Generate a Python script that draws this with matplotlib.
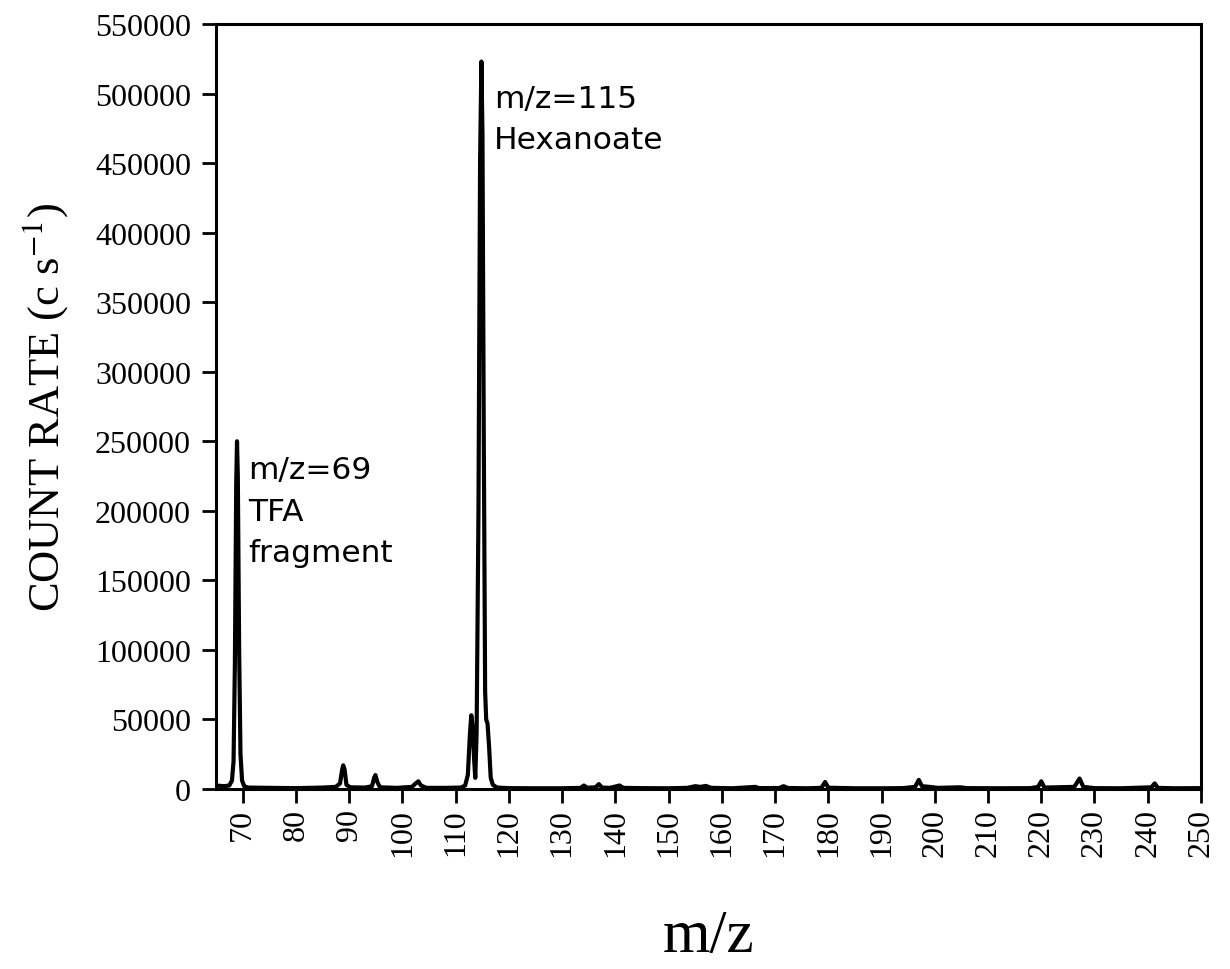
import numpy as np
import matplotlib
matplotlib.use("Agg")
import matplotlib.pyplot as plt

plt.rcParams['font.family'] = ['Liberation Serif', 'DejaVu Serif']
plt.rcParams['mathtext.fontset'] = 'stix'

# spectrum: (m/z, count rate)
mz = [65.0, 66.5, 67.5, 68.0, 68.3, 68.55, 68.8, 68.95, 69.1, 69.35, 69.6, 69.9, 70.3, 71.0,
      75.0, 80.0, 85.0, 87.5, 88.3, 88.7, 88.9, 89.15, 89.5, 90.2,
      93.0, 94.3, 94.7, 94.95, 95.3, 95.8, 99.0, 101.8, 102.5, 103.0, 103.5, 104.5,
      108.0, 111.0, 111.8, 112.3, 112.7, 112.95, 113.2, 113.5, 113.7, 113.95,
      114.3, 114.6, 114.85, 115.05, 115.3, 115.55, 115.75, 116.0, 116.3, 116.6, 117.0, 117.8,
      120.0, 125.0, 130.0, 133.5, 134.1, 134.7, 136.3, 136.9, 137.5, 139.0, 140.8, 141.5,
      145.0, 150.0, 153.5, 155.0, 156.0, 157.0, 158.0, 162.0, 166.3, 167.0,
      170.8, 171.6, 172.4, 176.0, 178.7, 179.4, 180.0, 185.0, 190.0, 194.0,
      196.3, 197.0, 197.6, 199.0, 200.5, 204.8, 206.0, 212.0, 218.0,
      219.4, 220.0, 220.6, 226.2, 227.2, 227.9, 230.0, 235.0,
      240.7, 241.3, 241.9, 245.0, 250.0]
counts = [2500, 2000, 2500, 6000, 20000, 90000, 220000, 250000, 225000, 100000, 25000, 6000, 2000, 1000,
          800, 600, 1000, 1500, 4000, 14000, 17000, 14000, 3000, 1200,
          1000, 2000, 8000, 10000, 5000, 1200, 800, 1500, 4000, 5500, 2500, 800,
          800, 1000, 2500, 10000, 40000, 53000, 45000, 20000, 8000, 40000,
          200000, 450000, 523000, 470000, 250000, 70000, 50000, 47000, 30000, 8000, 3000, 1000,
          600, 500, 500, 800, 2500, 900, 1200, 3500, 1000, 800, 2500, 800,
          600, 500, 800, 2000, 1500, 2200, 800, 500, 1500, 600,
          700, 2000, 700, 500, 800, 5000, 900, 500, 500, 600,
          1500, 6500, 2000, 1500, 800, 1200, 600, 500, 600,
          1500, 5500, 1000, 1500, 7500, 1500, 600, 500,
          1200, 4000, 800, 500, 600]

x_ticks = list(range(70, 251, 10))
y_ticks = list(range(0, 550001, 50000))

fig = plt.figure(figsize=(12.3, 9.7), dpi=100)
ax = fig.add_axes([0.1756, 0.1856, 0.8008, 0.7886])

ax.plot(mz, counts, color='black', lw=3)

ax.set_xlim(65, 250)
ax.set_ylim(0, 550000)
ax.set_xticks(x_ticks)
ax.set_yticks(y_ticks)
ax.set_xticklabels([str(t) for t in x_ticks], rotation=90)
ax.set_yticklabels([str(t) for t in y_ticks])
ax.tick_params(axis='both', direction='out', length=10, width=2, labelsize=23)
ax.tick_params(axis='x', pad=4)
ax.tick_params(axis='y', pad=8)
for s in ax.spines.values():
    s.set_linewidth(2.2)

ax.set_ylabel('COUNT RATE (c s$^{-1}$)', fontsize=32)
ax.yaxis.set_label_coords(-0.148, 0.5)
ax.set_xlabel('m/z', fontsize=44)
ax.xaxis.label.set_va('center')
ax.xaxis.set_label_coords(0.5, -0.192)

ax.text(71.0, 240000, 'm/z=69\nTFA\nfragment', family='DejaVu Sans', fontsize=22.5,
        va='top', ha='left', linespacing=1.55)
ax.text(117.2, 507000, 'm/z=115\nHexanoate', family='DejaVu Sans', fontsize=22.5,
        va='top', ha='left', linespacing=1.55)

fig.savefig('out.png', dpi=100, facecolor='white')
